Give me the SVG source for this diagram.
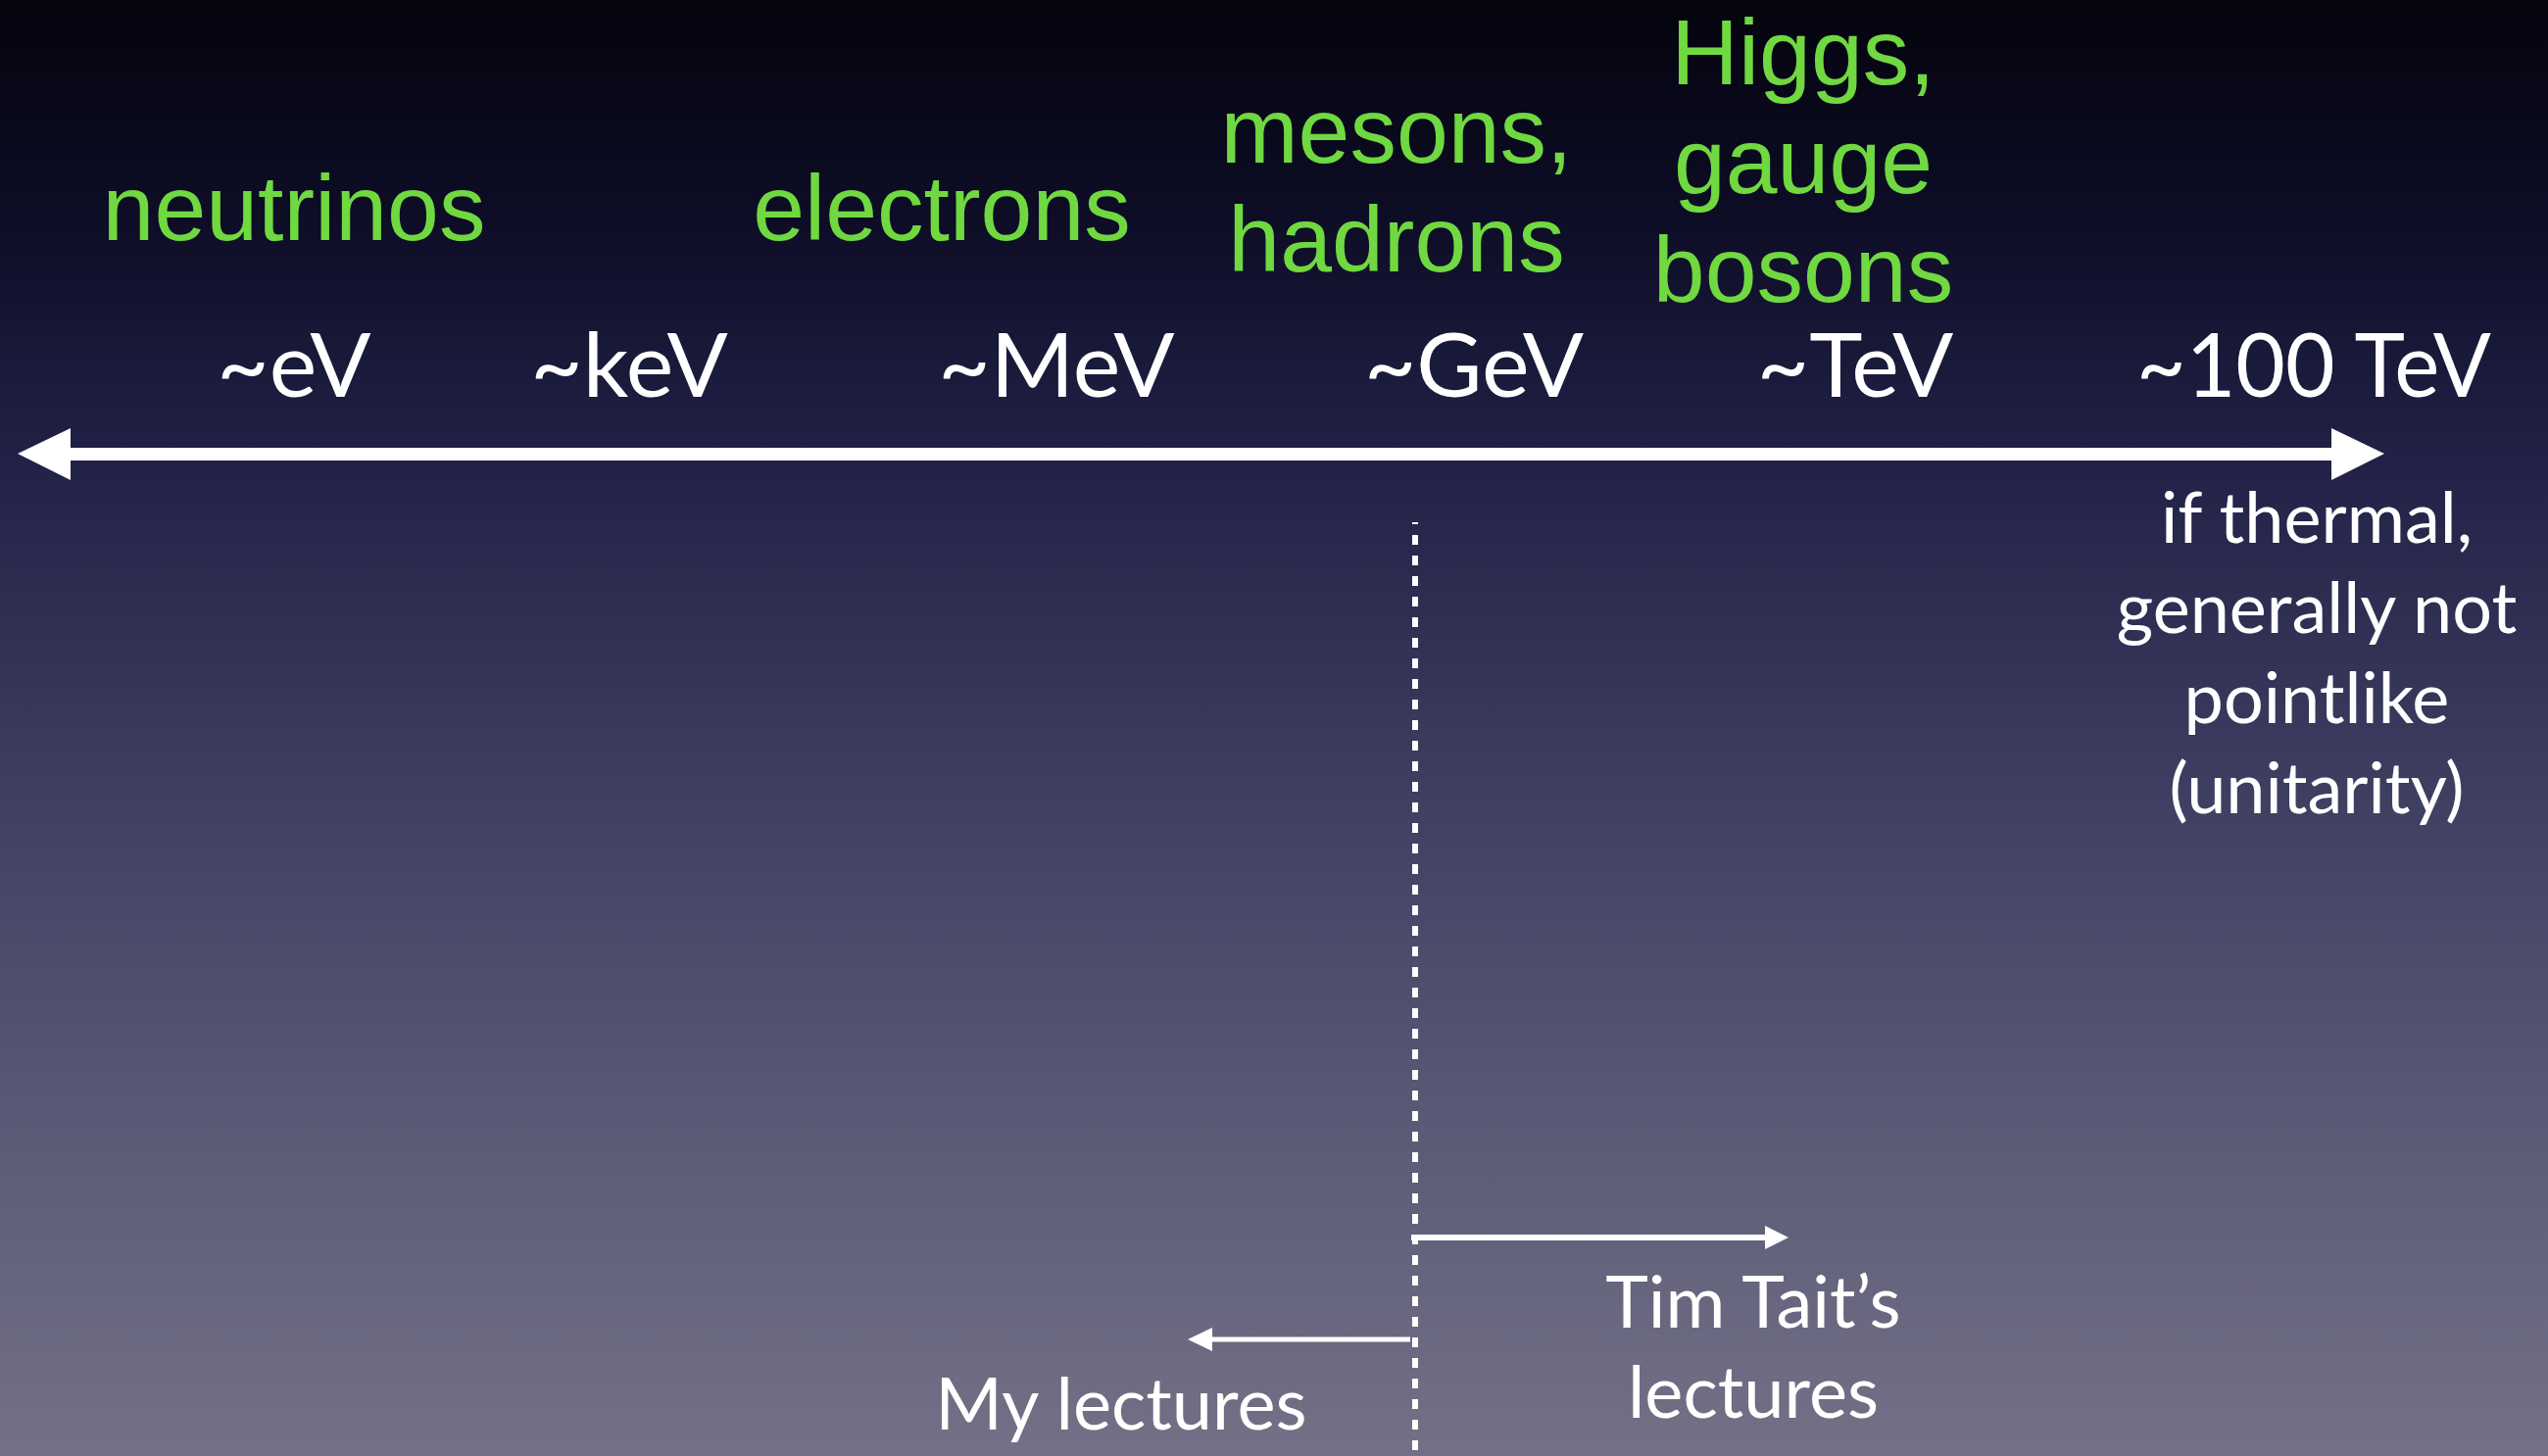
<svg xmlns="http://www.w3.org/2000/svg" width="2600" height="1486" viewBox="0 0 2600 1486">
<defs>
<linearGradient id="bg" x1="0" y1="0" x2="0" y2="1">
<stop offset="0" stop-color="#04040e"/>
<stop offset="0.15" stop-color="#0d0d26"/>
<stop offset="0.32" stop-color="#222248"/>
<stop offset="0.55" stop-color="#3f3f62"/>
<stop offset="0.8" stop-color="#5e5d78"/>
<stop offset="1" stop-color="#727186"/>
</linearGradient>
<style>
.g{font-family:"Liberation Sans",Arial,sans-serif;font-size:95px;fill:#70d840;text-anchor:middle}
.w{font-family:Lato,"Open Sans",sans-serif;fill:#ffffff;text-anchor:middle}
.tick{font-size:92px}
.note{font-size:72px}
.lec{font-size:74px}
</style>
</defs>
<rect width="2600" height="1486" fill="url(#bg)"/>
<g id="particles">
<g id="neutrinos"><text class="g" x="300" y="245">neutrinos</text></g>
<g id="electrons"><text class="g" x="961" y="245">electrons</text></g>
<g id="mesons"><text class="g" x="1425" y="166">mesons,</text><text class="g" x="1425" y="277">hadrons</text></g>
<g id="higgs"><text class="g" x="1840" y="86">Higgs,</text><text class="g" x="1840" y="197">gauge</text><text class="g" x="1840" y="308">bosons</text></g>
</g>
<g id="ticks">
<g id="t-eV"><text class="w tick" x="300" y="405">~eV</text></g>
<g id="t-keV"><text class="w tick" x="642" y="405">~keV</text></g>
<g id="t-MeV"><text class="w tick" x="1078" y="405">~MeV</text></g>
<g id="t-GeV"><text class="w tick" x="1504" y="405">~GeV</text></g>
<g id="t-TeV"><text class="w tick" x="1893" y="405">~TeV</text></g>
<g id="t-100TeV"><text class="w tick" x="2361" y="405" textLength="362" lengthAdjust="spacingAndGlyphs">~100 TeV</text></g>
</g>
<g id="note">
<text class="w note" x="2364" y="554">if thermal,</text>
<text class="w note" x="2364" y="646">generally not</text>
<text class="w note" x="2364" y="738">pointlike</text>
<text class="w note" x="2364" y="830">(unitarity)</text>
</g>
<g id="connectors">
<g id="axis">
<rect x="70" y="457" width="2312" height="13" fill="#fff"/>
<polygon points="18,463 72,437 72,490" fill="#fff"/>
<polygon points="2433,463 2379,437 2379,490" fill="#fff"/>
</g>
<line id="divider" x1="1444" y1="533" x2="1444" y2="1486" stroke="#fff" stroke-width="6" stroke-dasharray="10 11" stroke-dashoffset="8"/>
<g id="tait-arrow">
<line x1="1440" y1="1263" x2="1803" y2="1263" stroke="#fff" stroke-width="6"/>
<polygon points="1825,1263 1801,1251 1801,1275" fill="#fff"/>
</g>
<g id="my-arrow">
<line x1="1439" y1="1367" x2="1235" y2="1367" stroke="#fff" stroke-width="5"/>
<polygon points="1212,1367 1237,1355 1237,1379" fill="#fff"/>
</g>
</g>
<g id="lectures">
<g id="tait"><text class="w lec" x="1789" y="1355">Tim Tait’s</text><text class="w lec" x="1789" y="1447">lectures</text></g>
<g id="mine"><text class="w lec" x="1144" y="1459">My lectures</text></g>
</g>
</svg>
